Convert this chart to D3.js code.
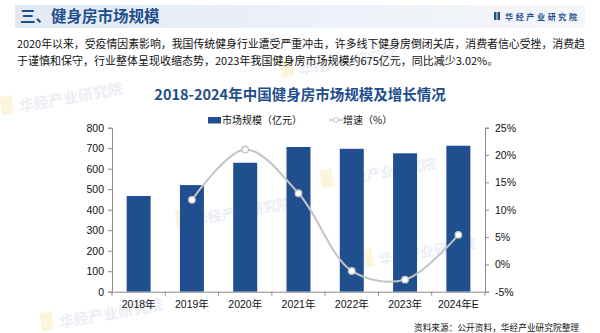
<!DOCTYPE html>
<html><head><meta charset="utf-8">
<script src="https://cdn.jsdelivr.net/npm/d3@7"></script>
<style>
html,body{margin:0;padding:0;background:#fff;}
svg{display:block;font-family:"Liberation Sans","Noto Sans CJK SC",sans-serif;}
.cjk{font-family:"Noto Sans CJK SC","Liberation Sans",sans-serif;}
</style></head>
<body>
<svg id="c" width="600" height="333"></svg>
<script>
const categories = ["2018年","2019年","2020年","2021年","2022年","2023年","2024年E"];
const marketSize = [467, 520, 629, 706, 697, 675, 712];
const growthCats = ["2019年","2020年","2021年","2022年","2023年","2024年E"];
const growthRate = [11.8, 21.0, 13.0, -1.2, -2.8, 5.4];
const leftTicks = [0,100,200,300,400,500,600,700,800];
const rightTicks = [-5,0,5,10,15,20,25];
const sectionTitle = "三、健身房市场规模";
const brand = "华经产业研究院";
const paragraph = ["2020年以来，受疫情因素影响，我国传统健身行业遭受严重冲击，许多线下健身房倒闭关店，消费者信心受挫，消费趋",
  "于谨慎和保守，行业整体呈现收缩态势，2023年我国健身房市场规模约675亿元，同比减少3.02%。"];
const chartTitle = "2018-2024年中国健身房市场规模及增长情况";
const legendBar = "市场规模（亿元）";
const legendLine = "增速（%）";
const source = "资料来源：公开资料，华经产业研究院整理";

const svg = d3.select("#c");
const defs = svg.append("defs");
const g1 = defs.append("linearGradient").attr("id","hb");
g1.append("stop").attr("offset","0").attr("stop-color","#e2e9f4");
g1.append("stop").attr("offset","0.6").attr("stop-color","#eef2f8");
g1.append("stop").attr("offset","1").attr("stop-color","#f4f6fa");

// watermarks
const wm = svg.append("g").attr("class","cjk").attr("fill","#ebeef4").attr("font-weight","bold");
[[20,112,15],[300,75,14],[60,328,15],[195,225,14],[340,185,14],[380,265,14]].forEach(([x,y,s])=>{
  wm.append("rect").attr("x",x-18).attr("y",y-18).attr("width",12).attr("height",18)
    .attr("fill","#fcf5dc").attr("transform",`rotate(-10,${x},${y})`);
  wm.append("text").attr("x",x).attr("y",y).attr("font-size",s).attr("transform",`rotate(-10,${x},${y})`).text(brand);
});

// header band
svg.append("rect").attr("x",15).attr("y",5).attr("width",570).attr("height",23).attr("fill","url(#hb)");
svg.append("text").attr("class","cjk").attr("x",20).attr("y",22).attr("font-size",15.5).attr("font-weight","bold")
  .attr("fill","#1f4e8c").text(sectionTitle);
svg.append("rect").attr("x",494).attr("y",12).attr("width",2.5).attr("height",8).attr("fill","#1f4e8c");
svg.append("rect").attr("x",497.5).attr("y",12).attr("width",2.5).attr("height",8).attr("fill","#1f4e8c");
svg.append("text").attr("class","cjk").attr("x",505).attr("y",19.5).attr("font-size",8).attr("font-weight","bold")
  .attr("fill","#1f4e8c").attr("textLength",72).attr("lengthAdjust","spacing").text(brand);

// paragraph
svg.append("text").attr("class","cjk").attr("x",17).attr("y",48).attr("font-size",11).attr("fill","#111")
  .attr("textLength",568).attr("lengthAdjust","spacingAndGlyphs").text(paragraph[0]);
svg.append("text").attr("class","cjk").attr("x",17).attr("y",65).attr("font-size",11).attr("fill","#111")
  .text(paragraph[1]);

// chart title
svg.append("text").attr("class","cjk").attr("x",300).attr("y",100).attr("text-anchor","middle")
  .attr("font-size",14.5).attr("font-weight","bold").attr("fill","#1f4e8c").text(chartTitle);

// scales
const x = d3.scaleBand().domain(categories).range([112,485]).paddingInner(0.55).paddingOuter(0.275);
const yL = d3.scaleLinear().domain([0,800]).range([291.7,127.7]);
const yR = d3.scaleLinear().domain([-5,25]).range([291.7,127.7]);

// bars
svg.append("g").selectAll("rect").data(categories).join("rect")
  .attr("x",d=>x(d)).attr("width",x.bandwidth())
  .attr("y",(d,i)=>yL(marketSize[i])).attr("height",(d,i)=>yL(0)-yL(marketSize[i]))
  .attr("fill","#1f4f8f");

// axes
const axL = svg.append("g").attr("transform","translate(112,0)")
  .call(d3.axisLeft(yL).tickValues(leftTicks).tickSize(4).tickPadding(4));
const axR = svg.append("g").attr("transform","translate(485,0)")
  .call(d3.axisRight(yR).tickValues(rightTicks).tickSize(4).tickPadding(6).tickFormat(d=>d+"%"));
const axB = svg.append("g").attr("transform",`translate(0,${yL(0)})`)
  .call(d3.axisBottom(x).tickSize(0).tickPadding(9));
[axL,axR,axB].forEach(a=>{
  a.select(".domain").attr("stroke","#8c8c8c");
  a.selectAll(".tick line").attr("stroke","#8c8c8c");
  a.selectAll("text").attr("fill","#111").attr("font-size",10.5)
    .attr("font-family","\"Liberation Sans\",\"Noto Sans CJK SC\",sans-serif");
});
// category boundary ticks
const step = x.step();
const bounds = d3.range(categories.length+1).map(i=>112+i*step);
svg.append("g").selectAll("line").data(bounds).join("line")
  .attr("x1",d=>d).attr("x2",d=>d).attr("y1",yL(0)).attr("y2",yL(0)+4)
  .attr("stroke","#8c8c8c");

// line
const cx = d=>x(d)+x.bandwidth()/2;
const pts = growthCats.map((c,i)=>[cx(c), yR(growthRate[i])]);
svg.append("path").attr("d",d3.line().curve(d3.curveCatmullRom.alpha(0.5))(pts))
  .attr("fill","none").attr("stroke","#c4c4c4").attr("stroke-width",2);
svg.append("g").selectAll("circle").data(pts).join("circle")
  .attr("cx",d=>d[0]).attr("cy",d=>d[1]).attr("r",3.3)
  .attr("fill","#fff").attr("stroke","#c4c4c4").attr("stroke-width",1.3);

// legend
svg.append("rect").attr("x",208).attr("y",117).attr("width",13).attr("height",6.5).attr("fill","#1f4f8f");
svg.append("text").attr("class","cjk").attr("x",222).attr("y",124).attr("font-size",10).attr("fill","#111").text(legendBar);
svg.append("line").attr("x1",329).attr("x2",343).attr("y1",120).attr("y2",120).attr("stroke","#c4c4c4").attr("stroke-width",1.5);
svg.append("circle").attr("cx",336).attr("cy",120).attr("r",2.5).attr("fill","#fff").attr("stroke","#c4c4c4");
svg.append("text").attr("class","cjk").attr("x",343).attr("y",124).attr("font-size",10).attr("fill","#111").text(legendLine);

// source
svg.append("text").attr("class","cjk").attr("x",579).attr("y",331).attr("text-anchor","end")
  .attr("font-size",8.7).attr("fill","#111").text(source);
</script>
</body></html>
